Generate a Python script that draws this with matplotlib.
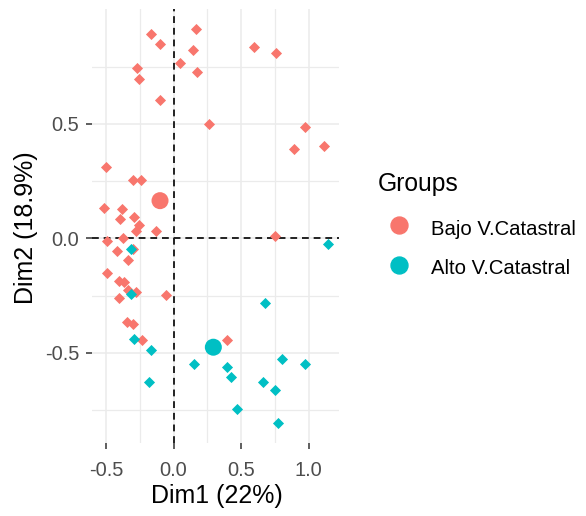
import matplotlib
matplotlib.use("Agg")
import matplotlib.pyplot as plt
from matplotlib.lines import Line2D

# Groups and their colours
groups = ["Bajo V.Catastral", "Alto V.Catastral"]
group_colors = ["#F8766D", "#00BFC4"]

# Individuals on the first two dimensions
bajo_dim1 = [-0.169, -0.098, 0.167, 0.142, 0.048, 0.176, -0.273, -0.253, -0.100, 0.261,
             0.594, 0.761, 0.974, 0.893, 1.117, -0.502, -0.302, -0.241, -0.515, -0.381,
             -0.396, -0.290, -0.253, -0.280, -0.130, -0.490, -0.372, -0.416, -0.302, -0.335,
             -0.490, -0.404, -0.367, -0.335, -0.281, -0.404, -0.059, -0.347, -0.302, -0.230,
             0.752, 0.394]
bajo_dim2 = [0.892, 0.851, 0.914, 0.823, 0.767, 0.726, 0.746, 0.695, 0.606, 0.500,
             0.836, 0.809, 0.487, 0.390, 0.404, 0.312, 0.255, 0.255, 0.134, 0.130,
             0.086, 0.095, 0.060, 0.033, 0.033, -0.010, 0.001, -0.053, -0.047, -0.095,
             -0.149, -0.184, -0.190, -0.225, -0.232, -0.259, -0.249, -0.367, -0.375, -0.445,
             0.011, -0.443]

alto_dim1 = [-0.317, -0.315, -0.290, -0.169, -0.179, 1.142, 0.680, 0.154, 0.394, 0.426,
             0.468, 0.801, 0.974, 0.665, 0.752, 0.772]
alto_dim2 = [-0.046, -0.242, -0.437, -0.487, -0.627, -0.025, -0.283, -0.549, -0.562, -0.605,
             -0.746, -0.528, -0.549, -0.627, -0.662, -0.807]

# Group centres
center_dim1 = [-0.100, 0.295]
center_dim2 = [0.165, -0.475]

x_ticks = [-0.5, 0.0, 0.5, 1.0]
x_tick_labels = ["-0.5", "0.0", "0.5", "1.0"]
y_ticks = [-0.5, 0.0, 0.5]
y_tick_labels = ["-0.5", "0.0", "0.5"]
x_minor = [-0.25, 0.25, 0.75]
y_minor = [-0.75, -0.25, 0.25, 0.75]
x_label = "Dim1 (22%)"
y_label = "Dim2 (18.9%)"
legend_title = "Groups"

plt.rcParams["font.family"] = ["Liberation Sans", "DejaVu Sans"]

W, H = 586, 516
fig = plt.figure(figsize=(W / 100, H / 100), dpi=100)
fig.patch.set_facecolor("white")


def fx(px):
    return px / W


def fy(py):
    return 1 - py / H


ax = fig.add_axes([fx(91.7), fy(442.7), fx(339.3) - fx(91.7), fy(9) - fy(442.7)])
ax.set_xlim(-0.606, 1.228)
ax.set_ylim(-0.892, 1.002)
for s in ax.spines.values():
    s.set_visible(False)

ax.set_xticks(x_ticks)
ax.set_xticklabels(x_tick_labels)
ax.set_yticks(y_ticks)
ax.set_yticklabels(y_tick_labels)
ax.set_xticks(x_minor, minor=True)
ax.set_yticks(y_minor, minor=True)
ax.tick_params(which="major", length=4, width=1.1, color="#333333",
               labelcolor="#4D4D4D", labelsize=14.4)
ax.tick_params(axis="x", which="major", pad=9)
ax.tick_params(axis="y", which="major", pad=5)
ax.tick_params(which="minor", length=0)
ax.set_axisbelow(True)
ax.grid(which="major", color="#EBEBEB", linewidth=1.1)
ax.grid(which="minor", color="#EBEBEB", linewidth=0.9)

# Reference lines through the origin
ax.axhline(0, color="#222222", linewidth=1.4, linestyle=(0, (3.5, 2.5)), zorder=1.5)
ax.axvline(0, color="#222222", linewidth=1.4, linestyle=(0, (3.5, 2.5)), zorder=1.5)

ax.scatter(bajo_dim1, bajo_dim2, marker="D", s=32, color=group_colors[0],
           linewidths=0, zorder=3)
ax.scatter(alto_dim1, alto_dim2, marker="D", s=32, color=group_colors[1],
           linewidths=0, zorder=3)
ax.scatter(center_dim1, center_dim2, marker="o", s=150, color=group_colors,
           linewidths=0, zorder=4)

ax.set_xlabel(x_label, fontsize=18, va="center")
ax.set_ylabel(y_label, fontsize=18, va="center", rotation_mode="default")
ax.xaxis.set_label_coords(0.504, -0.124)
ax.yaxis.set_label_coords(-0.265, 0.496)

# Legend
fig.text(fx(377.7), fy(190.7), legend_title, fontsize=17.7, va="baseline", ha="left")
for i, (name, color) in enumerate(zip(groups, group_colors)):
    fig.add_artist(Line2D([fx(398.7)], [fy(225 + 40 * i)], marker="o", markersize=12.2,
                          color=color, linestyle="none", transform=fig.transFigure))
    fig.text(fx(430.7), fy(235 + 39 * i), name, fontsize=14.6, va="baseline", ha="left")

fig.savefig("out.png", dpi=100, facecolor="white")
